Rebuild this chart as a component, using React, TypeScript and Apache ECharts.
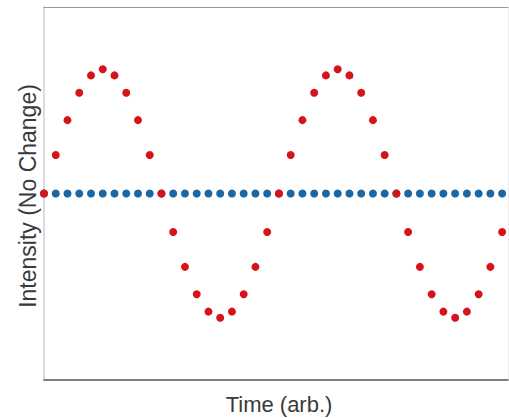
import React, { useEffect, useRef } from "react";
import * as echarts from "echarts";

const timeIdx = [
  0, 1, 2, 3, 4, 5, 6, 7, 8, 9, 10, 11, 12, 13, 14, 15, 16, 17, 18, 19,
  20, 21, 22, 23, 24, 25, 26, 27, 28, 29, 30, 31, 32, 33, 34, 35, 36, 37, 38, 39,
];

const oscillating = [
  0, 0.31, 0.59, 0.81, 0.95, 1, 0.95, 0.81, 0.59, 0.31,
  0, -0.31, -0.59, -0.81, -0.95, -1, -0.95, -0.81, -0.59, -0.31,
  0, 0.31, 0.59, 0.81, 0.95, 1, 0.95, 0.81, 0.59, 0.31,
  0, -0.31, -0.59, -0.81, -0.95, -1, -0.95, -0.81, -0.59, -0.31,
];

const flat = [
  0, 0, 0, 0, 0, 0, 0, 0, 0, 0, 0, 0, 0, 0, 0, 0, 0, 0, 0, 0,
  0, 0, 0, 0, 0, 0, 0, 0, 0, 0, 0, 0, 0, 0, 0, 0, 0, 0, 0, 0,
];

const xLabel = "Time (arb.)";
const yLabel = "Intensity (No Change)";

export default function App() {
  const ref = useRef<HTMLDivElement>(null);
  useEffect(() => {
    if (!ref.current) return;
    const chart = echarts.init(ref.current, undefined, { renderer: "svg" });
    const font = "'Liberation Sans', Arial, sans-serif";
    chart.setOption({
      animation: false,
      backgroundColor: "#ffffff",
      grid: { left: 44, right: 1, top: 7, bottom: 38 },
      xAxis: [
        {
          type: "value",
          min: 0,
          max: 39.5,
          position: "bottom",
          axisLine: { show: true, onZero: false, lineStyle: { color: "#555555", width: 1.5 } },
          axisTick: { show: false },
          axisLabel: { show: false },
          splitLine: { show: false },
        },
        {
          type: "value",
          min: 0,
          max: 39.5,
          position: "top",
          axisLine: { show: true, onZero: false, lineStyle: { color: "#999999", width: 1 } },
          axisTick: { show: false },
          axisLabel: { show: false },
          splitLine: { show: false },
        },
      ],
      yAxis: [
        {
          type: "value",
          min: -1.5,
          max: 1.5,
          position: "left",
          axisLine: { show: true, onZero: false, lineStyle: { color: "#cfcfcf", width: 1.5 } },
          axisTick: { show: false },
          axisLabel: { show: false },
          splitLine: { show: false },
        },
        {
          type: "value",
          min: -1.5,
          max: 1.5,
          position: "right",
          axisLine: { show: true, onZero: false, lineStyle: { color: "#ececec", width: 1 } },
          axisTick: { show: false },
          axisLabel: { show: false },
          splitLine: { show: false },
        },
      ],
      graphic: [
        {
          type: "text",
          x: 279,
          y: 404,
          style: {
            text: xLabel,
            fill: "#3a3a3a",
            font: `22px ${font}`,
            textAlign: "center",
            textVerticalAlign: "middle",
          },
        },
        {
          type: "text",
          x: 28,
          y: 196,
          rotation: Math.PI / 2,
          style: {
            text: yLabel,
            fill: "#3a3a3a",
            font: `23px ${font}`,
            textAlign: "center",
            textVerticalAlign: "middle",
          },
        },
      ],
      series: [
        {
          type: "scatter",
          data: timeIdx.map((t, i) => [t, flat[i]]),
          symbolSize: 8,
          itemStyle: { color: "#1a67a6", opacity: 1 },
          silent: true,
        },
        {
          type: "scatter",
          data: timeIdx.map((t, i) => [t, oscillating[i]]),
          symbolSize: 8,
          itemStyle: { color: "#d4131a", opacity: 1 },
          silent: true,
        },
      ],
    });
    return () => chart.dispose();
  }, []);
  return (
    <div
      ref={ref}
      style={{ position: "fixed", left: 0, top: 0, width: 509, height: 418 }}
    />
  );
}
